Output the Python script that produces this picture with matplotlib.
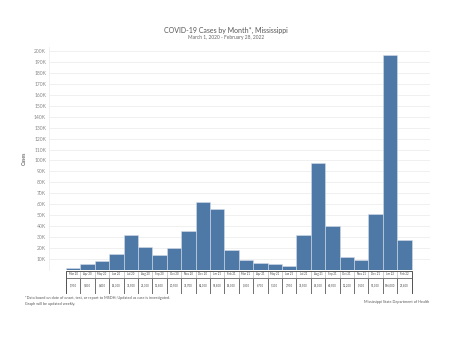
import matplotlib
matplotlib.use("Agg")
import matplotlib.pyplot as plt
from matplotlib.patches import Rectangle
from matplotlib.ticker import FuncFormatter

months = ["Mar 20", "Apr 20", "May 20", "Jun 20", "Jul 20", "Aug 20", "Sep 20", "Oct 20",
          "Nov 20", "Dec 20", "Jan 21", "Feb 21", "Mar 21", "Apr 21", "May 21", "Jun 21",
          "Jul 21", "Aug 21", "Sep 21", "Oct 21", "Nov 21", "Dec 21", "Jan 22", "Feb 22"]
cases = [1900, 5800, 8400, 14300, 31500, 21300, 13800, 20500, 35700, 62000, 55800, 18000,
         9300, 6700, 5100, 3900, 31900, 98000, 40500, 12200, 9100, 51000, 196000, 27400]
yticks = list(range(10000, 200001, 10000))

W, H = 453, 349
fig = plt.figure(figsize=(W / 100, H / 100), dpi=100)
plt.rcParams['font.family'] = ['Lato', 'DejaVu Sans']

def px(x0, y0, x1, y1):
    return [x0 / W, 1 - y1 / H, (x1 - x0) / W, (y1 - y0) / H]

x = list(range(len(months)))
ax = fig.add_axes(px(49, 47, 430, 270))
ax.bar(x, cases, width=1.0, color="#4e79a7", edgecolor="#d5dde8", linewidth=0.4, zorder=3)
ax.set_xlim(-1.68, 24.78)
ax.set_ylim(0, 203600)
ax.set_yticks(yticks)
ax.yaxis.set_major_formatter(FuncFormatter(lambda v, p: f"{int(v/1000)}K"))
ax.tick_params(axis='y', labelsize=3.6, colors="#888888", length=0, pad=2)
ax.tick_params(axis='x', bottom=False, labelbottom=False)
ax.grid(axis='y', color="#eeeeee", linewidth=0.6, zorder=0)
for s in ['top', 'right', 'bottom']:
    ax.spines[s].set_visible(False)
ax.spines['left'].set_color("#eeeeee")
ax.spines['left'].set_linewidth(0.6)
ax.set_ylabel("Cases", fontsize=3.8, color="#444444", labelpad=5)

# table below
tx = fig.add_axes(px(49, 271, 430, 294))
tx.set_xlim(-1.68, 24.78)
tx.set_ylim(0, 1)
tx.axis('off')
hdr = 6.5 / 23
for i, (m, v) in enumerate(zip(months, cases)):
    tx.add_patch(Rectangle((i - 0.5, 1 - hdr), 1, hdr, facecolor="white",
                           edgecolor="#bbbbbb", linewidth=0.4))
    tx.add_patch(Rectangle((i - 0.5, 0), 1, 1 - hdr, facecolor="white",
                           edgecolor="#666666", linewidth=0.6))
    tx.text(i, 1 - hdr / 2, m, fontsize=2.0, ha='center', va='center', color="#444444")
    tx.text(i, (1 - hdr) / 2, f"{v:,}", fontsize=2.0, ha='center', va='center', color="#444444")
tx.add_patch(Rectangle((-0.5, 0), len(months), 1, fill=False, edgecolor="#555555", linewidth=0.7))

fig.text(226 / W, 1 - 30 / H, "COVID-19 Cases by Month*, Mississippi", fontsize=5.0,
         ha='center', va='center', color="#555555")
fig.text(226 / W, 1 - 37.5 / H, "March 1, 2020 - February 28, 2022", fontsize=3.5,
         ha='center', va='center', color="#666666")
fig.text(25 / W, 1 - 298 / H,
         "*Data based on date of onset, test, or report to MSDH; Updated as case is investigated.",
         fontsize=2.7, ha='left', va='center', color="#555555")
fig.text(25 / W, 1 - 304.3 / H, "Graph will be updated weekly.",
         fontsize=2.7, ha='left', va='center', color="#555555")
fig.text(429 / W, 1 - 301.7 / H, "Mississippi State Department of Health",
         fontsize=2.7, ha='right', va='center', color="#555555")

fig.savefig("out.png", dpi=100)
